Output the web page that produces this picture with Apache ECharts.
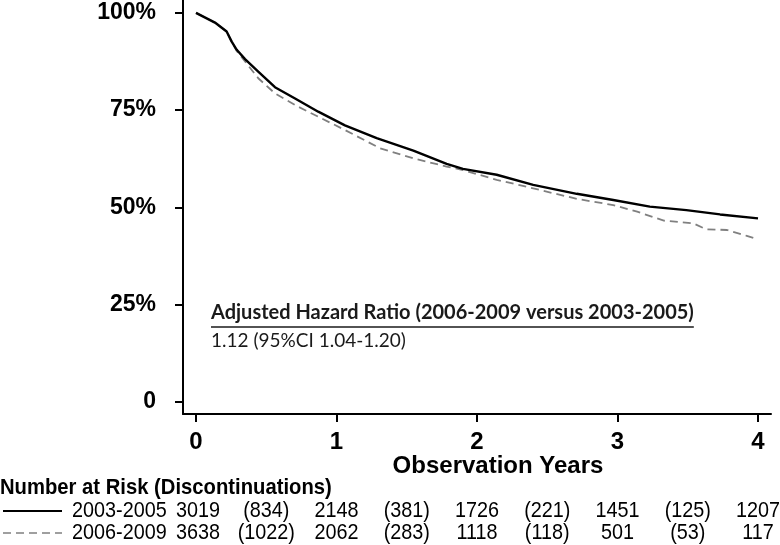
<!DOCTYPE html>
<html>
<head>
<meta charset="utf-8">
<script src="https://cdn.jsdelivr.net/npm/echarts@6/dist/echarts.min.js"></script>
<style>
  html, body { margin: 0; padding: 0; background: #fff; }
  #chart { width: 780px; height: 545px; }
</style>
</head>
<body>
<div id="chart"></div>
<script>
// ---- data ----
const xTicks = [0, 1, 2, 3, 4];
const yTicks = [0, 25, 50, 75, 100];

const yearsA = [0, 0.135, 0.218, 0.254, 0.29, 0.349, 0.443, 0.562, 0.705, 0.87, 1.06, 1.286, 1.547, 1.784, 1.9, 2.14, 2.40, 2.71, 2.97, 3.23, 3.49, 3.73, 4.0];
const survA  = [100, 97.5, 95.2, 92.6, 90.5, 88.1, 84.9, 80.9, 78.0, 74.6, 71.1, 67.8, 64.6, 61.2, 59.9, 58.4, 55.8, 53.5, 51.9, 50.2, 49.3, 48.2, 47.2];

const yearsB = [0, 0.135, 0.218, 0.254, 0.29, 0.36, 0.443, 0.562, 0.705, 0.87, 1.06, 1.15, 1.31, 1.547, 1.784, 1.9, 2.14, 2.40, 2.71, 2.97, 3.14, 3.33, 3.54, 3.63, 3.78, 3.92, 4.0];
const survB  = [100, 97.5, 95.2, 92.6, 90.2, 87.0, 83.2, 79.3, 76.3, 73.3, 69.9, 68.2, 65.2, 62.6, 60.5, 59.6, 57.1, 54.9, 52.2, 50.6, 48.9, 46.6, 45.9, 44.4, 44.2, 42.7, 41.8];

const seriesNames = ['2003-2005', '2006-2009'];
const riskYears = [0, 0.5, 1, 1.5, 2, 2.5, 3, 3.5, 4];
const riskA = ['3019', '(834)', '2148', '(381)', '1726', '(221)', '1451', '(125)', '1207'];
const riskB = ['3638', '(1022)', '2062', '(283)', '1118', '(118)', '501', '(53)', '117'];

const hrTitle = 'Adjusted Hazard Ratio (2006-2009 versus 2003-2005)';
const hrValue = '1.12 (95%CI 1.04-1.20)';
const xTitle = 'Observation Years';
const riskTitle = 'Number at Risk (Discontinuations)';

// ---- chart ----
const chart = echarts.init(document.getElementById('chart'), null, { renderer: 'canvas' });

const sans = '"Liberation Sans", Arial, sans-serif';
const hrFontFamily = 'Lato, "Open Sans", sans-serif';

function measure(text, font) {
  const c = document.createElement('canvas').getContext('2d');
  c.font = font;
  return c.measureText(text).width;
}

const option = {
  animation: false,
  backgroundColor: '#fff',
  grid: { left: 183, right: 9, top: 0, bottom: 131, containLabel: false },
  xAxis: {
    type: 'value', min: -0.0925, max: 4.0925,
    axisLine: { onZero: false, lineStyle: { color: '#000', width: 2 } },
    axisTick: { show: true, customValues: xTicks, length: 8, lineStyle: { color: '#000', width: 2 } },
    axisLabel: { customValues: xTicks, margin: 16, color: '#000', fontSize: 24, fontWeight: 'bold', fontFamily: sans },
    splitLine: { show: false }
  },
  yAxis: {
    type: 'value', min: -3.08, max: 103.3,
    axisLine: { show: true, onZero: false, lineStyle: { color: '#000', width: 2 } },
    axisTick: { show: true, customValues: yTicks, length: 8, lineStyle: { color: '#000', width: 2 } },
    axisLabel: {
      customValues: yTicks, margin: 27, color: '#000', fontSize: 23, fontWeight: 'bold',
      fontFamily: sans,
      formatter: v => (v === 0 ? '0' : v + '%')
    },
    splitLine: { show: false }
  },
  series: [
    {
      name: seriesNames[1], type: 'line', symbol: 'none', z: 2,
      data: yearsB.map((t, i) => [t, survB[i]]),
      lineStyle: { color: '#808080', width: 1.8, type: [8, 5] }
    },
    {
      name: seriesNames[0], type: 'line', symbol: 'none', z: 3,
      data: yearsA.map((t, i) => [t, survA[i]]),
      lineStyle: { color: '#000', width: 2.4 }
    }
  ]
};
chart.setOption(option);

// ---- annotations and number-at-risk table ----
const hrTitleFont = 'bold 20px ' + hrFontFamily;
const hrTitleW = measure(hrTitle, hrTitleFont);
const rowY = [511, 533];
const tableFont = '22px ' + sans;
const sx = 0.9;

const graphics = [];
graphics.push({
  type: 'text', left: 211, top: 303,
  style: { text: hrTitle, font: hrTitleFont, fill: '#1a1a1a' }
});
graphics.push({
  type: 'line', shape: { x1: 211, y1: 327, x2: 211 + hrTitleW, y2: 327 },
  style: { stroke: '#1a1a1a', lineWidth: 1.6 }
});
graphics.push({
  type: 'text', left: 211, top: 331,
  style: { text: hrValue, font: '19px ' + hrFontFamily, fill: '#1a1a1a' }
});
graphics.push({
  type: 'text', x: 498, y: 466,
  style: { text: xTitle, font: 'bold 24px ' + sans, fill: '#000', align: 'center', verticalAlign: 'middle' }
});
graphics.push({
  type: 'text', x: 0, y: 488, scaleX: 0.92,
  style: { text: riskTitle, font: 'bold 22px ' + sans, fill: '#000', verticalAlign: 'middle' }
});
// legend samples
graphics.push({ type: 'line', shape: { x1: 3, y1: rowY[0], x2: 62, y2: rowY[0] }, style: { stroke: '#000', lineWidth: 2 } });
graphics.push({ type: 'line', shape: { x1: 3, y1: rowY[1], x2: 62, y2: rowY[1] }, style: { stroke: '#808080', lineWidth: 1.5, lineDash: [8, 5] } });
seriesNames.forEach((n, r) => graphics.push({
  type: 'text', x: 72, y: rowY[r], scaleX: sx,
  style: { text: n, font: tableFont, fill: '#000', verticalAlign: 'middle' }
}));
[riskA, riskB].forEach((row, r) => {
  row.forEach((t, i) => {
    const px = chart.convertToPixel({ xAxisIndex: 0 }, riskYears[i]);
    graphics.push({
      type: 'text', x: px + (i === 0 ? 2 : 0), y: rowY[r], scaleX: sx,
      style: { text: t, font: tableFont, fill: '#000', align: 'center', verticalAlign: 'middle' }
    });
  });
});
chart.setOption({ graphic: graphics });
</script>
</body>
</html>
